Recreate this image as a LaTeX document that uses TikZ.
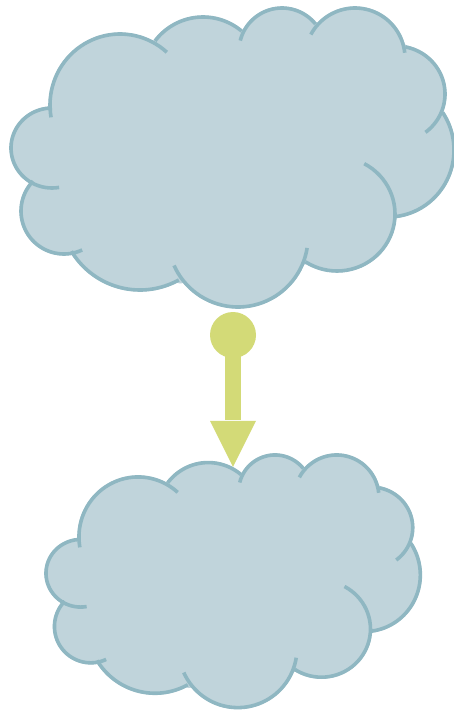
\documentclass[tikz,border=0pt]{standalone}
\usepackage{xcolor}
\usetikzlibrary{shapes.geometric}
\definecolor{cMist}{HTML}{C0D4DB}
\definecolor{cTeal}{HTML}{8FB7C2}
\definecolor{cLime}{HTML}{D3DA77}
% centre x/y, radii x/y, start and end angle of each lobe
\newcommand{\cloudlobes}{
  120/105/70/71/190/48, 203/77/60/60/143/50, 282/51/43/43/166/39,
  355/58/50/50/152/6, 396/94/49/48/79/-53, 388/150/66/67/34/-85,
  337/214/58/57/62/-123, 238/237/70/70/-9/-156, 140/210/80/80/-61/-149,
  64/211/43/43/-65/-224, 52/148/41/40/-80/-270}
\tikzset{
  cloudpic/.pic={
    \filldraw[cMist, line width=3pt] (52,108) -- (156,42) -- (241,32) -- (316,24) -- (405,46) -- (440,114)
      -- (394,217) -- (305,263) -- (180,282) -- (71,252) -- (35,183) -- cycle;
    \foreach \cx/\cy/\rx/\ry/\angs/\ange in \cloudlobes
      \filldraw[cMist, line width=3pt] plot[domain=\angs:\ange, samples=40] ({\cx+\rx*cos(\x)},{\cy-\ry*sin(\x)}) -- cycle;
    \foreach \cx/\cy/\rx/\ry/\angs/\ange in \cloudlobes
      \draw[cTeal, line width=3.6pt] plot[domain=\angs:\ange, samples=40] ({\cx+\rx*cos(\x)},{\cy-\ry*sin(\x)});
  },
  ball/.style={circle, fill=cLime, minimum size=46pt, inner sep=0pt, outer sep=0pt},
  head/.style={isosceles triangle, isosceles triangle stretches, shape border rotate=-90,
    fill=cLime, minimum width=46pt, minimum height=46pt, inner sep=0pt, outer sep=0pt},
  stem/.style={draw=cLime, line width=16pt, shorten >=1pt}
}
\begin{document}
\begin{tikzpicture}[x=1pt,y=-1pt]
  \useasboundingbox (0,0) rectangle (454,716);
  \pic (upper) {cloudpic};
  \pic[shift={(36.7,448.2)}, scale=.845] (lower) {cloudpic};
  \node[ball] (knob) at (233,335) {};
  \node[head] (tip) at (233,435) {};
  \draw[stem] (knob.center) -- (tip);
\end{tikzpicture}
\end{document}
